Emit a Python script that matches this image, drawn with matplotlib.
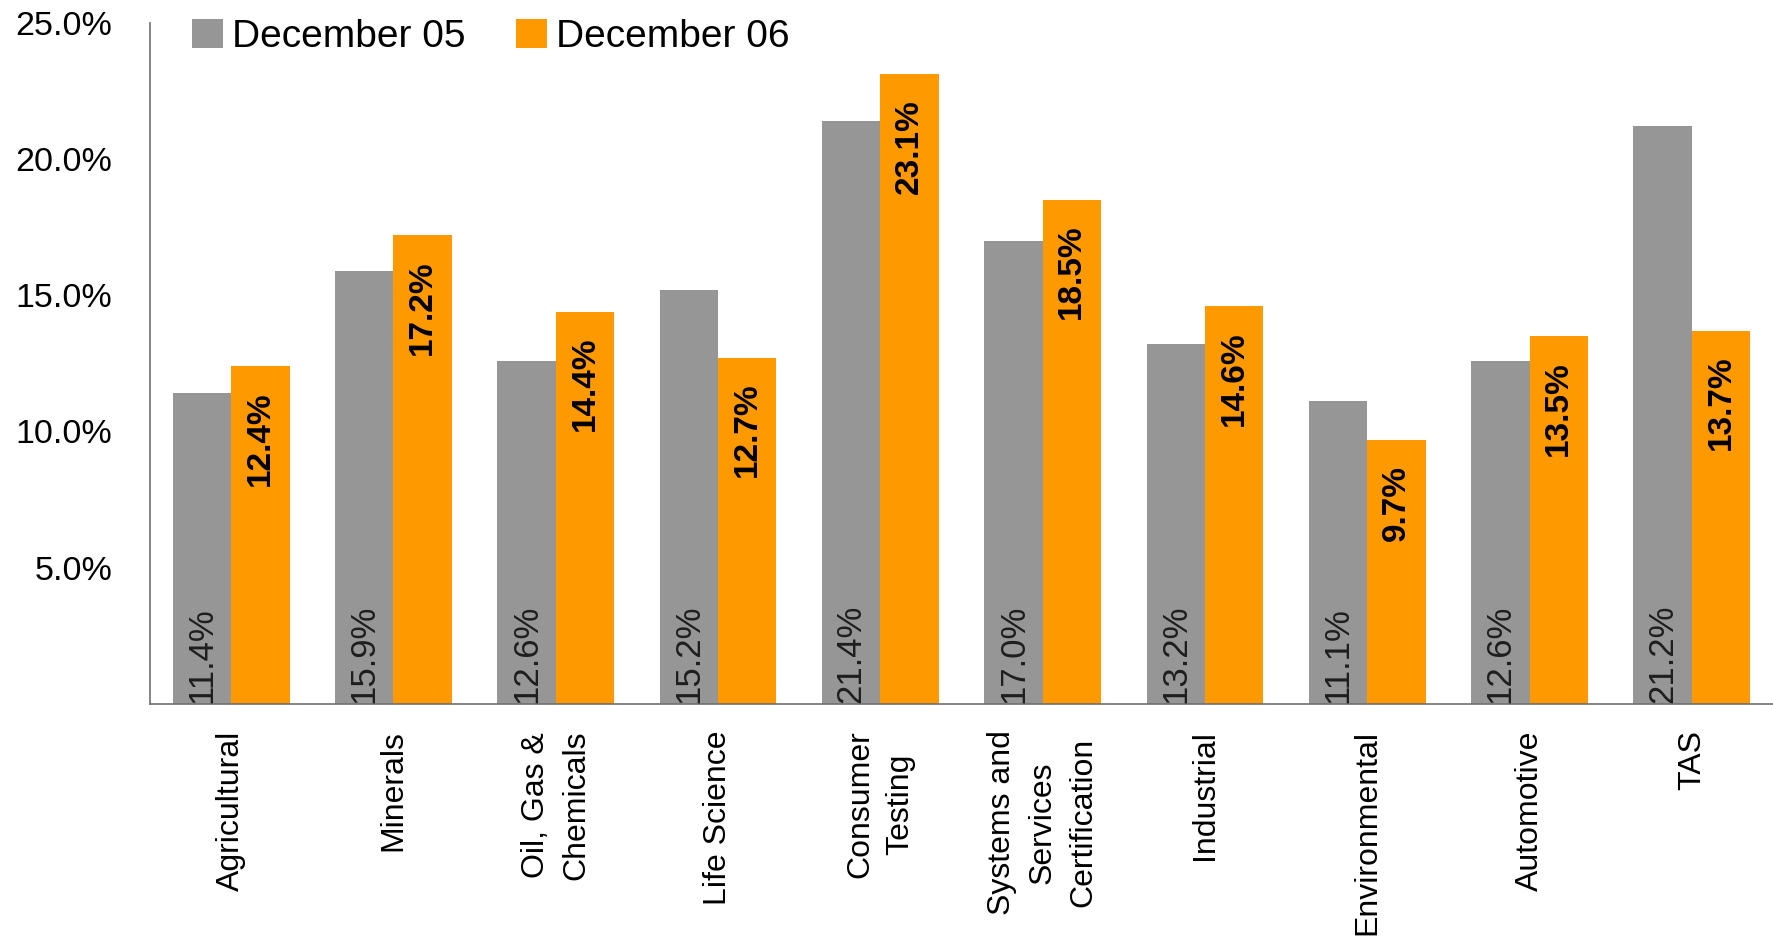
import matplotlib.pyplot as plt
import numpy as np

plt.rcParams['font.family'] = ['Liberation Sans', 'DejaVu Sans']

# Growth rates by business line
categories = ['Agricultural', 'Minerals', 'Oil, Gas &\nChemicals', 'Life Science',
              'Consumer\nTesting', 'Systems and\nServices\nCertification', 'Industrial',
              'Environmental', 'Automotive', 'TAS']
dec05 = [11.4, 15.9, 12.6, 15.2, 21.4, 17.0, 13.2, 11.1, 12.6, 21.2]
dec06 = [12.4, 17.2, 14.4, 12.7, 23.1, 18.5, 14.6, 9.7, 13.5, 13.7]
yticks = [5, 10, 15, 20, 25]

gray = '#969696'
orange = '#FF9900'

fig = plt.figure(figsize=(17.73, 9.43), dpi=100)
ax = fig.add_axes([0.0846, 0.2535, 0.9154, 0.7225])

x = np.arange(len(categories))
w = 0.36
ax.bar(x - w / 2, dec05, w, color=gray, label='December 05')
ax.bar(x + w / 2, dec06, w, color=orange, label='December 06')

for xi, v in zip(x, dec05):
    ax.annotate(f'{v:.1f}%', (xi - w / 2, 0), xytext=(0, 1), textcoords='offset points',
                rotation=90, ha='center', va='bottom', fontsize=25, color='#1e1e1e')
for xi, v in zip(x, dec06):
    ax.annotate(f'{v:.1f}%', (xi + w / 2, v), xytext=(0, -18), textcoords='offset points',
                rotation=90, ha='center', va='top', fontsize=24, fontweight='bold',
                color='black')

ax.set_xlim(-0.5, len(categories) - 0.5)
ax.set_ylim(0, 25)
ax.set_yticks(yticks)
ax.set_yticklabels([f'{t:.1f}%' for t in yticks], fontsize=24.5)
ax.set_xticks(x)
ax.set_xticklabels(categories, rotation=90, fontsize=23, linespacing=1.45,
                   ha='center', va='top', multialignment='center')
ax.tick_params(axis='y', length=0, pad=27)
ax.tick_params(axis='x', length=0, pad=19)

for s in ['top', 'right']:
    ax.spines[s].set_visible(False)
for s in ['left', 'bottom']:
    ax.spines[s].set_color('#707070')
    ax.spines[s].set_linewidth(1.2)

ax.legend(loc='upper left', bbox_to_anchor=(0.026, 1.005), ncol=2, frameon=False,
          fontsize=28, handlelength=0.78, handleheight=0.78, handletextpad=0.25,
          columnspacing=1.3, borderaxespad=0, borderpad=0)

plt.savefig('out.png', dpi=100)
